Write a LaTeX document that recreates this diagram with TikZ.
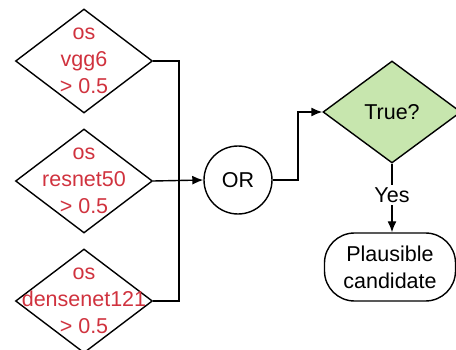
\documentclass[tikz,border=0pt]{standalone}
\usepackage{fontspec}
\setmainfont{Liberation Sans}
\usetikzlibrary{shapes.geometric,arrows.meta}
\definecolor{condred}{RGB}{208,50,62}
\definecolor{okgreen}{RGB}{199,230,174}
\begin{document}
\begin{tikzpicture}[x=1pt,y=-1pt,
  line width=1.4pt,
  every node/.style={font=\fontsize{21.5}{27}\selectfont, align=center},
  dia/.style={diamond, draw, inner sep=0pt, minimum width=137pt, minimum height=104pt},
  cond/.style={text=condred, inner sep=0pt},
  gate/.style={circle, draw, minimum size=68pt, inner sep=0pt},
  term/.style={rectangle, rounded corners=30pt, draw, minimum width=131pt, minimum height=68pt, inner sep=0pt},
  arr/.style={-{Latex[length=11pt,width=9pt]}}]
\useasboundingbox (0,0) rectangle (456,350);

% three threshold tests
\node[dia] (d1) at (84,61) {};
\node[cond] (t1) at (84,61) {os\\vgg6\\> 0.5};
\node[dia] (d2) at (84,181) {};
\node[cond] (t2) at (84,181) {os\\resnet50\\> 0.5};
\node[dia] (d3) at (84,301) {};
\node[cond] (t3) at (84,301) {os\\densenet121\\> 0.5};

% OR gate and final decision
\node[gate] (or) at (238,180) {OR};
\node[dia, fill=okgreen, minimum width=138pt, minimum height=102pt] (tru) at (392,112) {True?};
\node[inner sep=2pt] (yes) at (392,195) {Yes};
\node[term] (pc) at (390,267) {Plausible\\candidate};

% collecting bus
\coordinate (bus) at (179,181);
\coordinate (bend) at (298,180);
\draw (d1.east) -| (bus);
\draw (d3.east) -| (bus);
\draw[arr] (d2.east) -- (or.west);
\draw[arr] (or.east) -- (bend) |- (tru.west);
\draw (tru.south) -- (yes.north);
\draw[arr] (yes.south) -- (yes.south |- pc.north);
\end{tikzpicture}
\end{document}
